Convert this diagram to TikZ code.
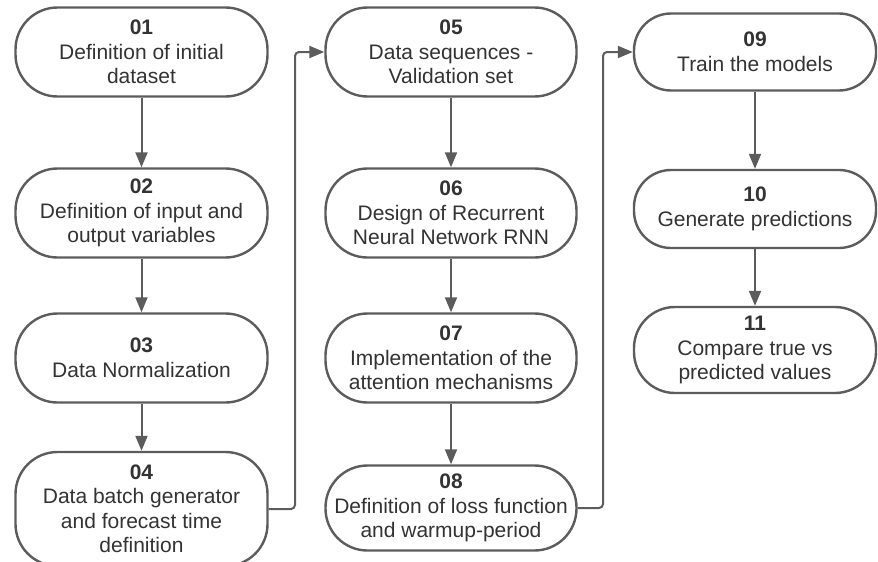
\documentclass[tikz,border=0pt]{standalone}
\usepackage{fontspec}
\setmainfont{Liberation Sans}
\usetikzlibrary{arrows.meta}
\definecolor{linegray}{HTML}{5C5C5C}
\definecolor{txtgray}{HTML}{333333}
\begin{document}
\begin{tikzpicture}[x=1pt,y=-1pt,
  stepbox/.style={draw=linegray, line width=2.4pt, fill=white, rounded corners=42pt,
    align=center, inner sep=2pt, text=txtgray,
    font=\fontsize{21}{24.5}\selectfont},
  col1/.style={stepbox, minimum width=252pt},
  col2/.style={stepbox, minimum width=251pt},
  col3/.style={stepbox, minimum width=242pt},
  conn/.style={draw=linegray, line width=2pt, rounded corners=4pt,
    -{Triangle[length=15pt,width=12pt]}}
]
\useasboundingbox (0,0) rectangle (878,562);

% column 1
\node[col1, minimum height=89pt] (n01) at (141.5,52) {\textbf{01}\\Definition of initial\\dataset};
\node[col1, minimum height=89pt] (n02) at (141.5,213) {\textbf{02}\\Definition of input and\\output variables};
\node[col1, minimum height=89pt] (n03) at (141.5,358) {\textbf{03}\\Data Normalization};
\node[col1, minimum height=114pt] (n04) at (141.5,509) {\textbf{04}\\Data batch generator\\and forecast time\\definition};

% column 2
\node[col2, minimum height=89pt] (n05) at (451,52) {\textbf{05}\\Data sequences -\\Validation set};
\node[col2, minimum height=89pt] (n06) at (451,213) {\textbf{06}\\Design of Recurrent\\Neural Network RNN};
\node[col2, minimum height=89pt] (n07) at (451,358) {\textbf{07}\\Implementation of the\\attention mechanisms};
\node[col2, minimum height=85pt] (n08) at (451,508) {\textbf{08}\\Definition of loss function\\and warmup-period};

% column 3
\node[col3, minimum height=77pt, rounded corners=37pt] (n09) at (755,52) {\textbf{09}\\Train the models};
\node[col3, minimum height=78pt, rounded corners=37pt] (n10) at (755,209) {\textbf{10}\\Generate predictions};
\node[col3, minimum height=86pt, rounded corners=41pt] (n11) at (755,350) {\textbf{11}\\Compare true vs\\predicted values};

% junction coordinates
\coordinate (j1) at (295,300);
\coordinate (j2) at (603,300);

% connectors
\draw[conn] (n01) -- (n02);
\draw[conn] (n02) -- (n03);
\draw[conn] (n03) -- (n04);
\draw[conn] (n04.east) -| (j1) |- (n05.west);
\draw[conn] (n05) -- (n06);
\draw[conn] (n06) -- (n07);
\draw[conn] (n07) -- (n08);
\draw[conn] (n08.east) -| (j2) |- (n09.west);
\draw[conn] (n09) -- (n10);
\draw[conn] (n10) -- (n11);
\end{tikzpicture}
\end{document}
